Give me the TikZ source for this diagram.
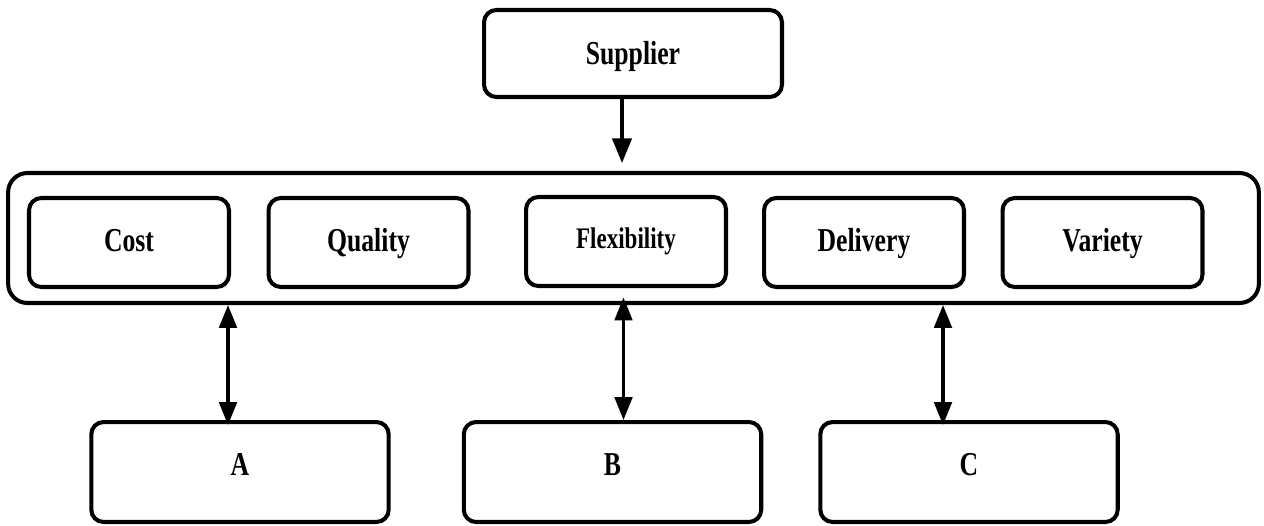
\documentclass[tikz,border=0pt]{standalone}
\usepackage{fontspec}
\setmainfont{Liberation Serif}[FakeStretch=0.77]
\usetikzlibrary{arrows.meta}

\begin{document}
\begin{tikzpicture}[
        x=0.02cm, y=-0.02cm,
        caja/.style={draw, line width=2.3pt, rounded corners=7pt, inner sep=0pt,
            font=\bfseries\fontsize{19}{22}\selectfont, text height=13.3pt, text depth=2.5pt},
        factor/.style={caja, minimum width=4.0cm, minimum height=1.78cm},
        grupo/.style={caja, minimum width=5.95cm, minimum height=2.0cm, text depth=8.8pt},
        flecha/.style={line width=1.8pt, -{Triangle[length=14pt, width=11pt]}},
        doble/.style={line width=1.8pt, {Triangle[length=13pt, width=10pt]}-{Triangle[length=13pt, width=10pt]}}
    ]
        \useasboundingbox (0,0) rectangle (1264,525);

        % Proveedor
        \node[caja, text depth=0.3pt, minimum width=5.96cm, minimum height=1.74cm] (supplier) at (633,53.5) {Supplier};

        % Marco con los factores
        \node[caja, rounded corners=11pt, minimum width=25.02cm, minimum height=2.6cm] (marco) at (633.5,238) {};
        \node[factor] (cost) at (129,242.5) {Cost};
        \node[factor] (quality) at (368.5,242.5) {Quality};
        \node[factor, font=\bfseries\fontsize{17}{20}\selectfont, text height=11.9pt, text depth=4.5pt] (flex) at (626,241.5) {Flexibility};
        \node[factor] (delivery) at (864,242.5) {Delivery};
        \node[factor] (variety) at (1102.5,242.5) {Variety};

        % Grupos inferiores
        \node[grupo] (a) at (240,472) {A};
        \node[grupo] (b) at (612.5,472) {B};
        \node[grupo] (c) at (969,472) {C};

        % Conexiones
        \draw[flecha] ([xshift=-0.22cm]supplier.south) -- ([xshift=-0.22cm, yshift=0.16cm]supplier.south |- marco.north);
        \draw[doble] ([xshift=-0.24cm]a.north |- marco.south) -- ([xshift=-0.24cm, yshift=-0.1cm]a.north);
        \draw[doble] ([xshift=0.22cm, yshift=0.15cm]b.north |- marco.south) -- ([xshift=0.22cm]b.north);
        \draw[doble] ([xshift=-0.52cm]c.north |- marco.south) -- ([xshift=-0.52cm, yshift=-0.1cm]c.north);
    \end{tikzpicture}
\end{document}
